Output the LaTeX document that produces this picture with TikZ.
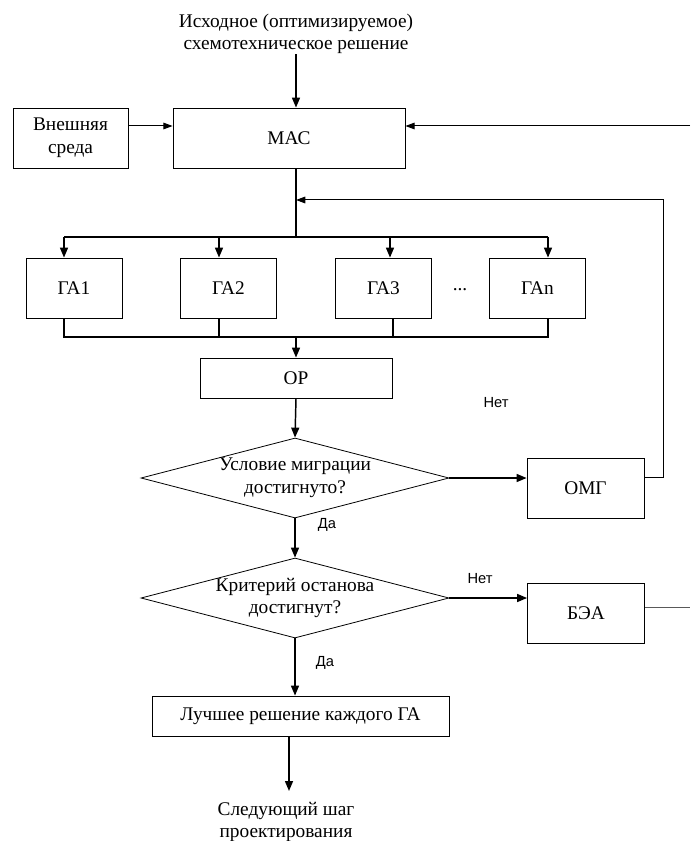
\documentclass[tikz,border=0pt]{standalone}
\usepackage{fontspec}
\setmainfont{Liberation Serif}
\newfontfamily\sanslab{Liberation Sans}
\usetikzlibrary{arrows.meta,shapes.geometric}
\begin{document}
\begin{tikzpicture}[x=0.75pt,y=-0.75pt,
  sz/.style 2 args={minimum width=#1*0.75pt, minimum height=#2*0.75pt},
  box/.style={draw, line width=0.6pt, inner sep=0pt, align=center,
    font=\fontsize{14.5}{17}\selectfont},
  dia/.style={box, diamond, shape aspect=3.85, inner xsep=-30pt},
  txt/.style={align=center, inner sep=0pt, font=\fontsize{14.5}{17}\selectfont},
  lab/.style={inner sep=0pt, font=\sanslab\fontsize{11}{13}\selectfont},
  conn/.style={line width=1.1pt},
  thin/.style={line width=0.75pt},
  arr/.style={conn, -{Triangle[length=7.5pt,width=6pt]}},
  tarr/.style={thin, -{Triangle[length=7pt,width=5pt]}}]
\useasboundingbox (0,0) rectangle (690,841);

% text nodes
\node[txt] (src) at (296,34) {Исходное (оптимизируемое)\\схемотехническое решение};
\node[txt] (next) at (286,822) {Следующий шаг\\проектирования};

% boxes
\node[box, sz={115}{60}] (ext) at (70.5,138) {Внешняя\\среда};
\node[box, sz={232}{60}] (mac) at (289,138) {МАС};
\node[box, sz={96}{60}] (ga1) at (74,288) {ГА1};
\node[box, sz={96}{60}] (ga2) at (228.5,288) {ГА2};
\node[box, sz={96}{60}] (ga3) at (383.5,288) {ГА3};
\node[box, sz={96}{60}] (gan) at (537.5,288) {ГАn};
\node[txt] (dots) at (460,290) {...};
\node[box, sz={192}{40}] (op) at (296,378) {ОР};
\node[dia, sz={308}{80}] (d1) at (295,478) {Условие миграции\\достигнуто?};
\node[box, sz={117}{60}] (omg) at (585.5,488) {ОМГ};
\node[dia, sz={308}{80}] (d2) at (295,598) {Критерий останова\\достигнут?};
\node[box, sz={117}{60}] (bea) at (586,613) {БЭА};
\node[box, sz={297}{40}] (best) at (300.5,716) {Лучшее решение каждого ГА};

% labels
\node[lab] (no1) at (496,403) {Нет};
\node[lab] (yes1) at (327,525) {Да};
\node[lab] (no2) at (480,579) {Нет};
\node[lab] (yes2) at (325,663) {Да};

% coordinates
\coordinate (inR) at (690,126);
\coordinate (bus) at (296,237);
\coordinate (busL) at (64,237);
\coordinate (busR) at (548,237);
\coordinate (b2) at (219,237);
\coordinate (b3) at (390,237);
\coordinate (jn) at (296,337);
\coordinate (jL) at (64,337);
\coordinate (jR) at (548,337);
\coordinate (j2) at (219,337);
\coordinate (j3) at (393,337);
\coordinate (fbB) at (663,477);
\coordinate (fbT) at (663,200);
\coordinate (outR) at (690,607);
\coordinate (bx) at (289,716);
\coordinate (nxt) at (289,791);

% connectors
\draw[arr] (src.south) -- (src.south |- mac.north);
\draw[tarr] (ext.east |- inR) -- (mac.west |- inR);
\draw[tarr] (inR) -- (mac.east |- inR);
\draw[conn] (mac.south -| bus) -- (bus);
\draw[conn] (busL) -- (busR);
\draw[arr] (busL) -- (busL |- ga1.north);
\draw[arr] (b2) -- (b2 |- ga2.north);
\draw[arr] (b3) -- (b3 |- ga3.north);
\draw[arr] (busR) -- (busR |- gan.north);
\draw[conn] (ga1.south -| jL) -- (jL) -- (jR) -- (gan.south -| jR);
\draw[conn] (ga2.south -| j2) -- (j2);
\draw[conn] (ga3.south -| j3) -- (j3);
\draw[arr] (jn) -- (jn |- op.north);
\draw[arr] (op.south) -- (d1.north);
\draw[arr] (d1.east) -- (d1.east -| omg.west);
\draw[tarr] (omg.east |- fbB) -- (fbB) -- (fbT) -- (fbT -| bus);
\draw[arr] (d1.south) -- (d2.north);
\draw[arr] (d2.east) -- (d2.east -| bea.west);
\draw[thin, draw=black!65] (bea.east |- outR) -- (outR);
\draw[arr] (d2.south) -- (d2.south |- best.north);
\draw[arr] (best.south -| bx) -- (nxt);
\end{tikzpicture}
\end{document}
